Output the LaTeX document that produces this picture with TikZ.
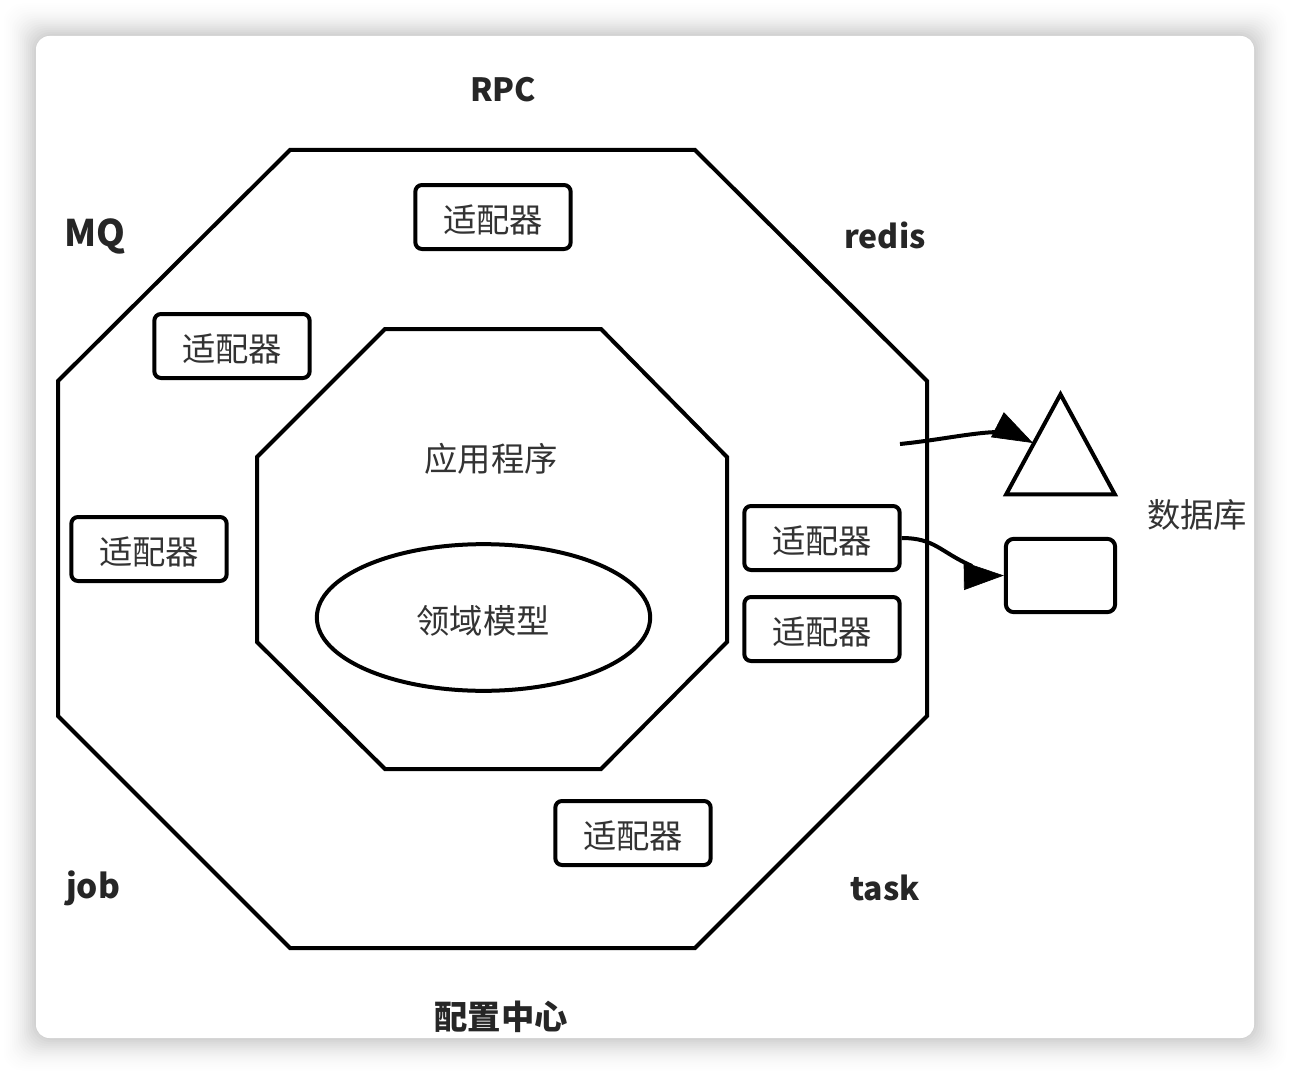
\documentclass[tikz,border=0pt]{standalone}
\usepackage{fontspec}
\setmainfont{Noto Sans CJK SC}
\usetikzlibrary{shapes.geometric,arrows.meta}
\newcommand{\adaptertext}{\raisebox{-2.5pt}[\height][\depth]{适配器}}
\tikzset{
  wall/.style={draw=black,line width=3pt,line join=miter},
  adapter/.style={draw=black,line width=3pt,rounded corners=5pt,minimum width=116.5pt,minimum height=48pt,inner sep=0pt,font=\fontsize{25}{25}\selectfont,text=black!80},
  inlabel/.style={font=\fontsize{25}{25}\selectfont,text=black!80},
  outlabel/.style={font=\fontsize{24}{24}\selectfont\bfseries,text=black!85},
  biglabel/.style={outlabel,font=\fontsize{25}{25}\selectfont\bfseries},
  linkline/.style={draw=black,line width=3pt},
  linkhead/.style={draw=black,line width=0.5pt,fill=black,-{Triangle[length=30pt,width=21pt]}},
}
\begin{document}
\begin{tikzpicture}[x=0.75pt,y=0.75pt,yscale=-1,xscale=1]
\useasboundingbox (0,0) rectangle (1290,1074);
\fill[white] (0,0) rectangle (1290,1074);
% shadow of the card
\foreach \r in {36,34,...,0}{
  \pgfmathsetmacro{\shadepct}{20*(1-\r/36)*(1-\r/36)}
  \fill[black!\shadepct!white,rounded corners=14pt] ({36-\r},{36-\r}) rectangle ({1254+\r},{1038+\r});
}
\fill[white,rounded corners=10pt] (36,36) rectangle (1254,1038);

% outer octagon
\draw[wall] (290,150) -- (695,150) -- (927,381) -- (927,716) -- (695,948) -- (290,948) -- (58,716) -- (58,381) -- cycle;
% inner octagon
\draw[wall] (385,329) -- (601,329) -- (727,457) -- (727,642) -- (601,769) -- (385,769) -- (257,642) -- (257,457) -- cycle;

\node[draw=black,line width=3pt,ellipse,minimum width=250pt,minimum height=110pt,inner sep=0pt] (model) at (483.5,617.5) {};
\node[inlabel] (modeltext) at (483,621) {领域模型};
\node[inlabel] (apptext) at (491,459) {应用程序};

\node[adapter] (adaptertop) at (493,217) {\adaptertext};
\node[adapter] (adapterleft) at (232,346) {\adaptertext};
\node[adapter] (adapterside) at (149,549) {\adaptertext};
\node[adapter] (adapterright) at (822,538) {\adaptertext};
\node[adapter] (adapterlow) at (822,629) {\adaptertext};
\node[adapter] (adapterbottom) at (633,833) {\adaptertext};

\node[outlabel] (rpc) at (503,90) {RPC};
\node[outlabel,font=\fontsize{27.5}{27.5}\selectfont\bfseries] (mq) at (95,236) {MQ};
\node[outlabel] (redis) at (885,235) {redis};
\node[biglabel] (job) at (93,888) {job};
\node[outlabel] (task) at (885,888) {task};
\node[biglabel] (config) at (501,1017) {配置中心};
\node[inlabel] (dbtext) at (1197,515) {数据库};

\node[draw=black,line width=3pt,isosceles triangle,isosceles triangle apex angle=57,shape border rotate=90,minimum height=75pt,inner sep=0pt] (cache) at (1060.5,462) {};
\node[draw=black,line width=3pt,rounded corners=6pt,minimum width=82pt,minimum height=55pt,inner sep=0pt] (store) at (1060.5,575.5) {};

\coordinate (cachefrom) at (900,444);
\coordinate (cachebend) at (1000,432);
\coordinate (cacheneck) at (998,425);
\coordinate (cachetip) at (1033,443);
\coordinate (storebend) at (972,566);
\coordinate (storeneck) at (965,576);
\draw[linkline] (cachefrom) .. controls (940,440) and (975,432) .. (cachebend);
\draw[linkhead] (cacheneck) -- (cachetip);
\draw[linkline] (adapterright.east) .. controls (935,538) and (940,552) .. (storebend);
\draw[linkhead] (storeneck) -- (store.west);
\end{tikzpicture}
\end{document}
